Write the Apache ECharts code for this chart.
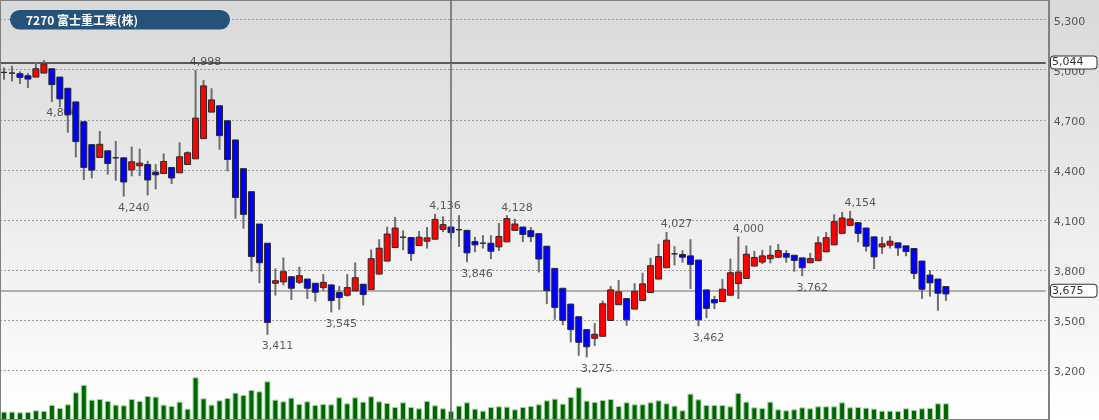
<!DOCTYPE html>
<html>
<head>
<meta charset="utf-8">
<script src="https://cdn.jsdelivr.net/npm/echarts@6/dist/echarts.min.js"></script>
<style>html,body{margin:0;padding:0;}#c{width:1099px;height:420px;}</style>
</head>
<body>
<div id="c"></div>
<script>
// ---- data ----
const title = '7270 富士重工業(株)';
const open  = [4984,4980,4976,4964,4956,4980,5006,4956,4889,4807,4688,4551,4474,4514,4472,4472,4400,4424,4432,4386,4378,4414,4382,4432,4466,4587,4746,4784,4694,4579,4407,4269,4075,3960,3720,3728,3759,3726,3745,3720,3694,3710,3664,3648,3674,3714,3682,3775,3853,3934,3996,3994,3946,3972,3984,4043,4057,4041,4037,3970,3960,3960,3938,3968,4037,4057,4035,4017,3942,3809,3690,3595,3519,3442,3390,3402,3497,3591,3628,3565,3616,3664,3745,3813,3896,3892,3884,3859,3680,3622,3610,3648,3718,3749,3823,3847,3867,3876,3898,3888,3872,3843,3855,3908,3950,4019,4067,4083,4051,3998,3938,3948,3962,3944,3928,3853,3769,3745,3700];
const high  = [5014,5024,4990,4980,5046,5058,5006,4956,4889,4807,4688,4551,4633,4514,4573,4472,4539,4527,4454,4434,4498,4414,4565,4510,4998,4938,4889,4784,4694,4579,4407,4269,4075,3960,3809,3874,3759,3819,3745,3720,3775,3710,3704,3775,3845,3714,3922,3984,4059,4117,4037,3994,4033,4057,4136,4121,4057,4128,4037,3998,4008,4008,4081,4128,4107,4057,4057,4017,3942,3809,3690,3595,3519,3442,3481,3616,3704,3739,3628,3720,3783,3872,3956,4027,3942,3918,3984,3859,3680,3644,3745,3868,4000,3946,3914,3920,3946,3956,3918,3888,3872,3902,4001,4027,4133,4148,4154,4083,4051,3998,3998,4003,3962,3944,3928,3853,3799,3745,3700];
const low   = [4940,4930,4915,4891,4956,4980,4806,4775,4623,4474,4339,4349,4474,4371,4335,4240,4361,4362,4246,4283,4378,4315,4382,4432,4466,4587,4746,4520,4391,4107,4047,3789,3720,3411,3646,3708,3620,3716,3626,3610,3674,3545,3561,3640,3674,3587,3682,3775,3853,3934,3918,3853,3946,3928,3984,4027,3988,3938,3846,3906,3928,3865,3914,3968,4037,3966,3966,3785,3595,3501,3468,3366,3285,3275,3343,3402,3497,3591,3465,3565,3616,3664,3745,3813,3827,3843,3686,3462,3511,3565,3610,3648,3626,3749,3823,3835,3839,3876,3843,3789,3762,3839,3855,3908,3950,4019,4067,3966,3910,3805,3896,3928,3884,3882,3745,3626,3640,3555,3614];
const close = [4984,4980,4954,4944,5006,5034,4911,4825,4730,4569,4414,4398,4553,4438,4472,4327,4448,4440,4339,4370,4450,4351,4478,4502,4710,4903,4819,4605,4462,4234,4133,3880,3843,3485,3735,3789,3690,3765,3690,3666,3725,3616,3634,3694,3753,3652,3867,3930,4015,4051,3996,3898,3996,3992,4103,4071,4023,4041,3902,3950,3960,3912,4000,4107,4075,4013,3999,3865,3676,3575,3497,3442,3366,3339,3414,3597,3680,3668,3501,3672,3716,3825,3880,3978,3896,3876,3833,3501,3569,3602,3684,3783,3787,3894,3874,3884,3888,3916,3876,3857,3813,3868,3962,3993,4089,4111,4105,4019,3942,3878,3956,3972,3932,3910,3779,3684,3722,3660,3656];
const volume = [2500,2500,2300,2400,2900,2700,4500,3600,4700,8300,10500,6100,6300,5700,4600,4400,6300,5700,7200,7000,4600,4200,5500,3400,12800,6500,4600,5900,6600,8200,7500,9000,8600,11600,6100,5600,6700,4800,5600,4500,4800,4700,
  6800,5000,6800,5500,7100,5600,5100,3900,5300,3900,3500,5700,4400,3500,2700,4300,5300,3400,2800,3900,4100,4000,3200,3900,4200,4700,5900,6400,4900,6900,9800,5800,5400,6000,6300,4200,5300,4700,
  4700,5300,5900,5000,4300,2900,7900,6200,4500,4500,4500,4100,8100,5500,3800,3600,5500,3200,2900,3200,3800,3500,4100,4100,4100,5300,3800,3900,3700,3400,2800,2800,2700,3500,3000,3500,3600,5000,5000];
const highMarks = [[24,4998],[54,4136],[63,4128],[83,4027],[92,4000],[106,4154]];
const lowMarks  = [[6,4806],[15,4240],[33,3411],[41,3545],[58,3846],[73,3275],[87,3462],[100,3762]];
const refHigh = 5044;
const lastPrice = 3675;
const cursorIndex = 56;
const yTicks = {min: 2900, max: 5300, interval: 300};
const slotCount = 131;
const categories = Array.from({length: slotCount}, (_, i) => String(i + 1));

// ---- build ----
const fmt = v => Number(v).toLocaleString('en-US');
const candleData = open.map((o, i) => [i, o, close[i], low[i], high[i]]);
const markData = highMarks.map(m => ({value: [m[0], m[1]], label: {position: 'top', distance: 2}}))
  .concat(lowMarks.map(m => ({value: [m[0], m[1]], label: {position: 'bottom', distance: 6}})));

const chart = echarts.init(document.getElementById('c'), null, {renderer: 'canvas'});
const FONT = 'DejaVu Sans';
chart.setOption({
  animation: false,
  backgroundColor: {type: 'linear', x: 0, y: 0, x2: 0, y2: 1,
    colorStops: [{offset: 0, color: '#d9d9d9'}, {offset: 1, color: '#ffffff'}]},
  graphic: [
    {type: 'rect', z: 100, shape: {x: 10, y: 10, width: 220, height: 19.5, r: 10}, style: {fill: '#24527a'}},
    {type: 'text', z: 101, x: 26, y: 20, style: {text: title, fill: '#ffffff', font: 'bold 12px "Noto Sans CJK JP", sans-serif', verticalAlign: 'middle'}}
  ],
  grid: [
    {left: -2.3, right: 53.3, top: 19.7, bottom: -2.7},
    {left: -2.3, right: 53.3, top: 0, bottom: 0},
    {left: -20, right: 50, top: -20, bottom: -20, show: true, borderColor: '#808080', borderWidth: 2, backgroundColor: 'transparent', z: 4}
  ],
  xAxis: [
    {type: 'category', gridIndex: 0, data: categories, boundaryGap: true, show: false},
    {type: 'category', gridIndex: 1, data: categories, boundaryGap: true, show: false},
    {type: 'value', gridIndex: 2, show: false}
  ],
  yAxis: [
    {type: 'value', gridIndex: 0, position: 'right', min: yTicks.min, max: yTicks.max, interval: yTicks.interval,
      axisLine: {show: false}, axisTick: {show: false},
      axisLabel: {margin: 8, color: '#555', fontSize: 11, fontFamily: FONT, formatter: v => fmt(v),
        showMinLabel: false, showMaxLabel: true, verticalAlign: 'top', lineHeight: 5},
      splitLine: {show: true, lineStyle: {color: '#9a9a9a', type: [2, 2], width: 1}}},
    {type: 'value', gridIndex: 1, position: 'left', min: 0, max: 126000, show: false},
    {type: 'value', gridIndex: 2, show: false}
  ],
  series: [
    {
      type: 'bar', xAxisIndex: 1, yAxisIndex: 1, data: volume, barWidth: 6, z: 2,
      itemStyle: {color: '#006400', borderColor: '#a3d3a3', borderWidth: 1},
      markLine: {silent: true, symbol: 'none', z: 6, label: {show: false},
        lineStyle: {color: '#666', width: 1.5, type: 'solid'},
        data: [{xAxis: cursorIndex}]}
    },
    {
      type: 'scatter', xAxisIndex: 0, yAxisIndex: 0, z: 1, symbolSize: 0, data: markData,
      label: {show: true, offset: [10, 0], color: '#333', fontSize: 11, fontFamily: FONT, formatter: p => fmt(p.value[1])},
      markLine: {silent: true, symbol: 'none', z: 1,
        data: [
          {yAxis: refHigh, lineStyle: {color: '#5a5a5a', width: 2, type: 'solid'},
            label: {show: true, position: 'end', distance: 5.3, formatter: fmt(refHigh), color: '#333', fontSize: 11, fontFamily: FONT,
              backgroundColor: '#fff', borderColor: '#333', borderWidth: 1, borderRadius: 3, padding: [1, 13, 0, 1]}},
          {yAxis: lastPrice, lineStyle: {color: '#9a9a9a', width: 1.5, type: 'solid'},
            label: {show: true, position: 'end', distance: 5.3, formatter: fmt(lastPrice), color: '#333', fontSize: 11, fontFamily: FONT,
              backgroundColor: '#fff', borderColor: '#333', borderWidth: 1, borderRadius: 3, padding: [1, 13, 0, 1]}}
        ]}
    },
    {
      type: 'custom', xAxisIndex: 0, yAxisIndex: 0, z: 3, data: candleData,
      encode: {x: 0, y: [1, 2, 3, 4]},
      renderItem: function (params, api) {
        const idx = api.value(0);
        const x = api.coord([idx, api.value(1)])[0];
        const yo = api.coord([idx, api.value(1)])[1];
        const yc = api.coord([idx, api.value(2)])[1];
        const yl = api.coord([idx, api.value(3)])[1];
        const yh = api.coord([idx, api.value(4)])[1];
        const up = api.value(2) >= api.value(1);
        const w = 6;
        const top = Math.min(yo, yc), bot = Math.max(yo, yc);
        return {type: 'group', children: [
          {type: 'line', shape: {x1: x, y1: yh, x2: x, y2: yl}, style: {stroke: '#6e6e6e', lineWidth: 2}},
          {type: 'rect', shape: {x: x - w / 2, y: top, width: w, height: Math.max(bot - top, 0)},
            style: {fill: up ? '#ff0000' : '#0000ff', stroke: '#2a2a2a', lineWidth: 1}}
        ]};
      }
    }
  ]
});
</script>
</body>
</html>
